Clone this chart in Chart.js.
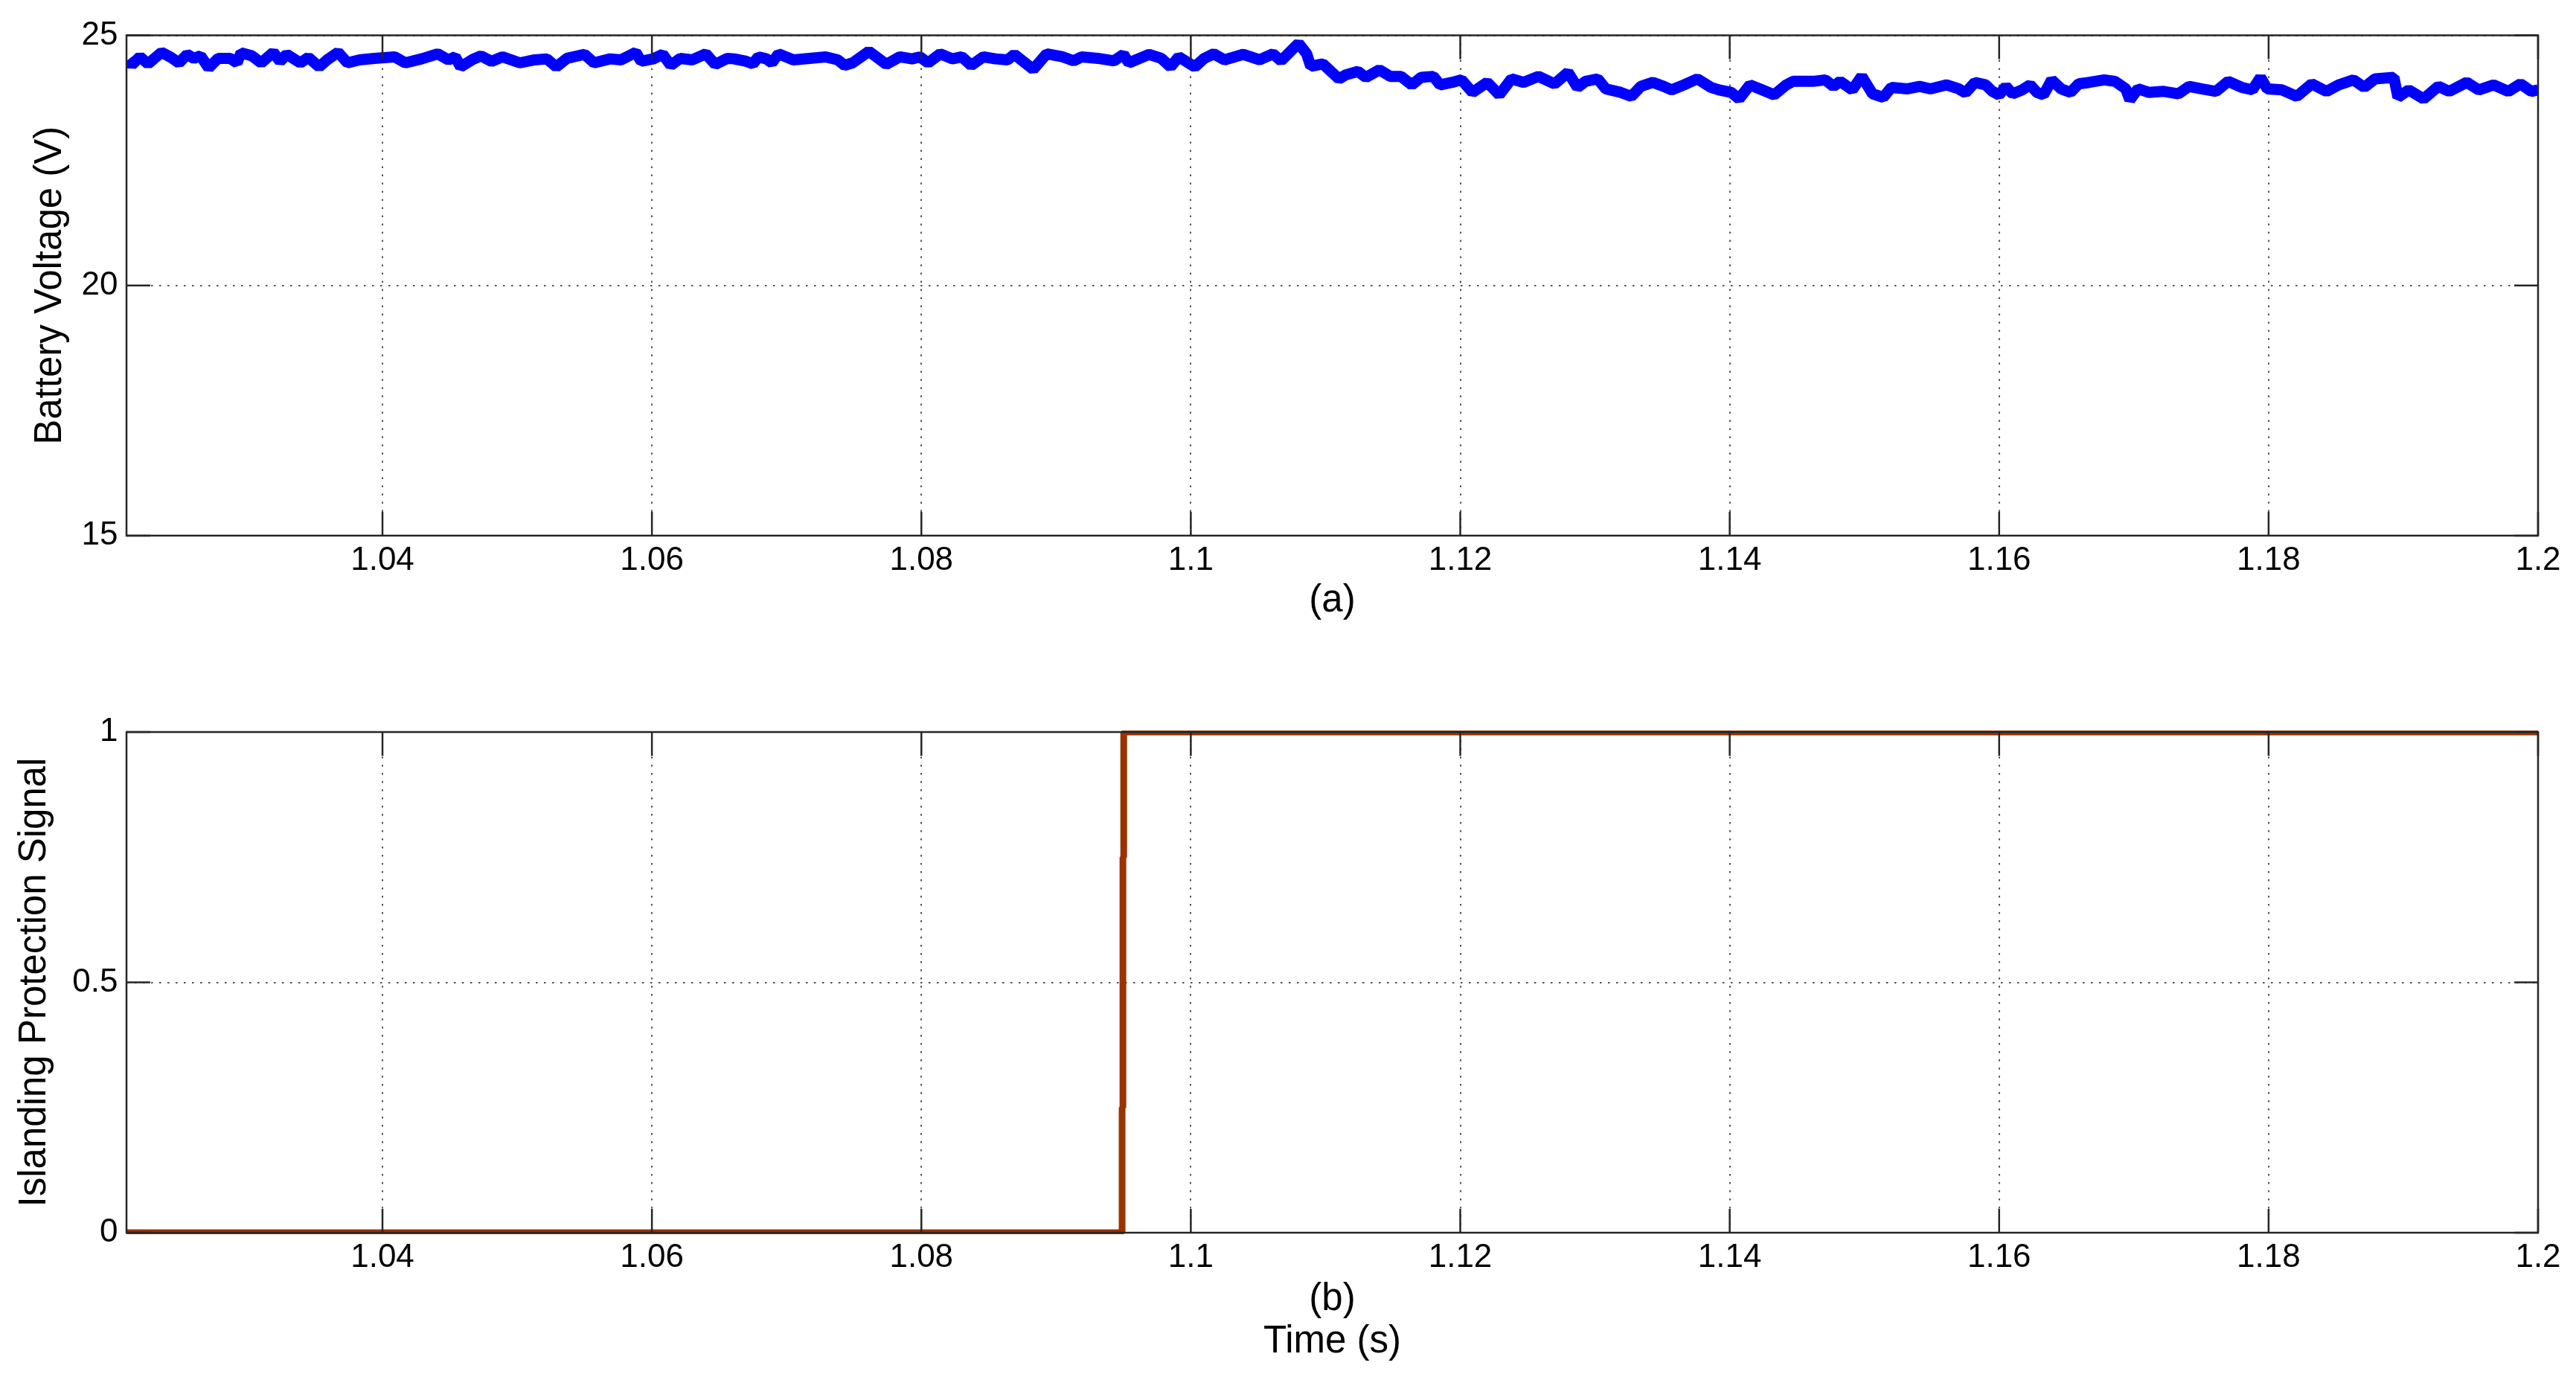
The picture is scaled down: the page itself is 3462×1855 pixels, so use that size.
<!DOCTYPE html>
<html>
<head>
<meta charset="utf-8">
<script src="https://cdn.jsdelivr.net/npm/chart.js@4.4.1/dist/chart.umd.min.js"></script>
<style>
  body { margin: 0; background: #fff; }
  canvas { position: absolute; left: 0; }
  #chartA { top: 0; }
  #chartB { top: 900px; }
</style>
</head>
<body>
<canvas id="chartA" width="3462" height="900"></canvas>
<canvas id="chartB" width="3462" height="955"></canvas>
<script>
// (a) battery voltage
const timeA = [
  1.0211,1.0214,1.0220,1.0226,1.0236,1.0243,1.0249,1.0255,1.0260,1.0265,1.0271,1.0278,1.0287,1.0292,1.0295,
  1.0303,1.0310,1.0319,1.0324,1.0329,1.0339,1.0345,1.0353,1.0359,1.0367,1.0374,1.0383,1.0394,1.0409,1.0417,
  1.0429,1.0441,1.0449,1.0454,1.0458,1.0467,1.0473,1.0481,1.0489,1.0502,1.0513,1.0522,1.0529,1.0537,1.0550,
  1.0557,1.0569,1.0577,1.0588,1.0592,1.0601,1.0608,1.0614,1.0621,1.0630,1.0640,1.0647,1.0656,
  1.0661,1.0670,1.0675,1.0679,1.0685,1.0689,1.0694,1.0705,1.0717,1.0729,1.0738,1.0743,1.0749,1.0761,1.0767,
  1.0774,1.0784,1.0793,1.0799,1.0805,1.0814,1.0823,1.0830,1.0837,1.0846,1.0855,1.0864,1.0869,1.0883,1.0893,
  1.0905,1.0913,1.0919,1.0931,1.0943,1.0950,1.0954,1.0969,1.0978,1.0985,1.0991,1.1003,1.1010,1.1017,1.1025,
  1.1039,1.1051,1.1061,1.1067,1.1074,1.1080,1.1086,1.1089,1.1098,1.1104,1.1110,1.1115,
  1.1124,1.1130,1.1140,1.1148,1.1156,1.1164,1.1171,1.1180,1.1185,1.1194,1.1201,1.1209,1.1220,1.1229,1.1238,
  1.1247,1.1258,1.1270,1.1280,1.1287,1.1293,1.1302,1.1308,1.1319,1.1327,1.1334,1.1343,1.1351,1.1357,1.1366,
  1.1376,1.1386,1.1392,1.1401,1.1407,1.1415,1.1424,1.1433,1.1442,1.1447,1.1462,1.1471,1.1477,1.1482,1.1491,
  1.1498,1.1506,1.1514,1.1520,1.1532,1.1541,1.1549,1.1561,1.1570,
  1.1575,1.1582,1.1590,1.1595,1.1600,1.1605,1.1610,1.1617,1.1623,1.1628,1.1633,1.1639,1.1646,1.1653,1.1659,
  1.1667,1.1678,1.1686,1.1694,1.1697,1.1703,1.1711,1.1722,1.1733,1.1741,1.1750,1.1761,1.1770,1.1780,1.1788,
  1.1794,1.1799,1.1810,1.1821,1.1832,1.1843,1.1852,1.1863,1.1871,1.1879,1.1893,1.1896,1.1904,1.1915,1.1926,
  1.1934,1.1947,1.1956,1.1967,1.1978,1.1987,1.1995,1.2000
];
const voltA = [
  24.51,24.41,24.57,24.43,24.66,24.56,24.45,24.62,24.54,24.59,24.35,24.54,24.54,24.45,24.65,
  24.59,24.45,24.66,24.48,24.62,24.45,24.56,24.37,24.51,24.66,24.45,24.51,24.54,24.57,24.45,
  24.53,24.63,24.51,24.57,24.37,24.52,24.59,24.48,24.57,24.45,24.51,24.53,24.37,24.54,24.62,
  24.45,24.53,24.51,24.66,24.48,24.53,24.62,24.40,24.54,24.51,24.63,24.42,24.54,
  24.53,24.48,24.43,24.57,24.53,24.45,24.63,24.51,24.54,24.57,24.51,24.40,24.45,24.68,24.56,
  24.42,24.57,24.53,24.57,24.45,24.63,24.53,24.57,24.40,24.57,24.53,24.51,24.62,24.32,24.63,
  24.57,24.49,24.57,24.54,24.49,24.62,24.45,24.62,24.54,24.37,24.57,24.37,24.54,24.63,24.51,
  24.62,24.51,24.63,24.49,24.68,24.84,24.63,24.38,24.43,24.28,24.13,24.21,
  24.28,24.16,24.31,24.18,24.18,24.01,24.16,24.18,24.01,24.06,24.11,23.86,24.06,23.81,24.13,
  24.06,24.18,24.03,24.26,23.96,24.08,24.13,23.93,23.86,23.78,23.98,24.06,23.98,23.91,24.01,
  24.13,23.96,23.91,23.86,23.73,24.01,23.91,23.81,24.01,24.08,24.08,24.11,23.98,24.08,23.91,
  24.18,23.83,23.76,23.96,23.93,23.98,23.93,24.01,23.93,
  23.85,24.06,24.01,23.88,23.81,23.98,23.83,23.91,24.01,23.86,23.81,24.11,23.93,23.86,24.03,
  24.06,24.11,24.08,23.93,23.71,23.93,23.86,23.88,23.83,23.98,23.93,23.88,24.08,23.96,23.91,
  24.16,23.93,23.91,23.78,24.03,23.88,24.01,24.11,23.96,24.13,24.16,23.76,23.91,23.73,23.98,
  23.88,24.06,23.91,24.01,23.88,24.03,23.88,23.91
];

// (b) islanding protection signal
const timeB = [1.021, 1.09490, 1.09490, 1.09496, 1.09496, 1.09502, 1.09502, 1.2];
const signalB = [0, 0, 0.25, 0.25, 0.75, 0.75, 1, 1];

const xTicks = [1.04, 1.06, 1.08, 1.1, 1.12, 1.14, 1.16, 1.18, 1.2];
const yTicksA = [15, 20, 25];
const yTicksB = [0, 0.5, 1];

const FONT = "'Liberation Sans', Arial, sans-serif";

// MATLAB style box with inward ticks on all four sides
const matlabBox = {
  id: 'matlabBox',
  afterDatasetsDraw(chart) {
    const {ctx, chartArea: a, scales: {x, y}} = chart;
    const len = 32;
    ctx.save();
    ctx.strokeStyle = '#262626';
    ctx.lineWidth = 2.5;
    ctx.beginPath();
    x.ticks.forEach(function(t){
      const px = x.getPixelForValue(t.value);
      ctx.moveTo(px, a.bottom); ctx.lineTo(px, a.bottom - len);
      ctx.moveTo(px, a.top); ctx.lineTo(px, a.top + len);
    });
    y.ticks.forEach(function(t){
      const py = y.getPixelForValue(t.value);
      ctx.moveTo(a.left, py); ctx.lineTo(a.left + len, py);
      ctx.moveTo(a.right, py); ctx.lineTo(a.right - len, py);
    });
    ctx.stroke();
    ctx.strokeRect(a.left, a.top, a.right - a.left, a.bottom - a.top);
    ctx.restore();
  }
};

function axisOpts(min, max, ticks, fmt) {
  return {
    type: 'linear', min: min, max: max,
    afterBuildTicks: function(s){ s.ticks = ticks.map(function(v){ return {value: v}; }); },
    grid: {color: '#555', lineWidth: 2, drawTicks: false},
    border: {display: false, dash: [2.5, 8.5]},
    ticks: {color: '#000', font: {family: FONT, size: 44}, callback: fmt}
  };
}

function makeChart(id, xs, ys, color, width, yMin, yMax, yTicks, yTitle, yTitlePad, xTitle, xTitlePad, xLineHeight, padTop, xHeight) {
  const x = axisOpts(1.021, 1.2, xTicks, function(v){ return String(+v.toFixed(2)); });
  x.ticks.padding = 7.6;
  x.ticks.maxRotation = 0;
  x.afterFit = function(s){ s.height = xHeight; };
  x.title = {display: true, text: xTitle, color: '#000', font: {family: FONT, size: 51, lineHeight: xLineHeight}, padding: {top: 0, bottom: xTitlePad}};

  const y = axisOpts(yMin, yMax, yTicks, function(v){ return String(v); });
  y.ticks.padding = 11.5;
  y.afterFit = function(s){ s.width = 170; };
  y.title = {display: true, text: yTitle, color: '#000', font: {family: FONT, size: 51, lineHeight: 1.2}, padding: {top: yTitlePad, bottom: 0}};

  return new Chart(document.getElementById(id).getContext('2d'), {
    type: 'line',
    data: {datasets: [{
      data: xs.map(function(t, i){ return {x: t, y: ys[i]}; }),
      borderColor: color, borderWidth: width, borderJoinStyle: 'bevel',
      pointRadius: 0, tension: 0, clip: {left: 0, right: 0, top: 2, bottom: 2}
    }]},
    options: {
      responsive: false, animation: false, devicePixelRatio: 1,
      layout: {padding: {top: padTop, right: 51, bottom: 0, left: 0}},
      plugins: {legend: {display: false}, tooltip: {enabled: false}},
      scales: {x: x, y: y}
    },
    plugins: [matlabBox]
  });
}

makeChart('chartA', timeA, voltA, '#0000ff', 15, 15, 25, yTicksA,
  'Battery Voltage (V)', 37.4, '(a)', 61.4, 1.2, 47.5, 180);
makeChart('chartB', timeB, signalB, '#993300', 9, 0, 1, yTicksB,
  'Islanding Protection Signal', 16, ['(b)', 'Time (s)'], 22.5, '57px', 84, 198);
</script>
</body>
</html>
